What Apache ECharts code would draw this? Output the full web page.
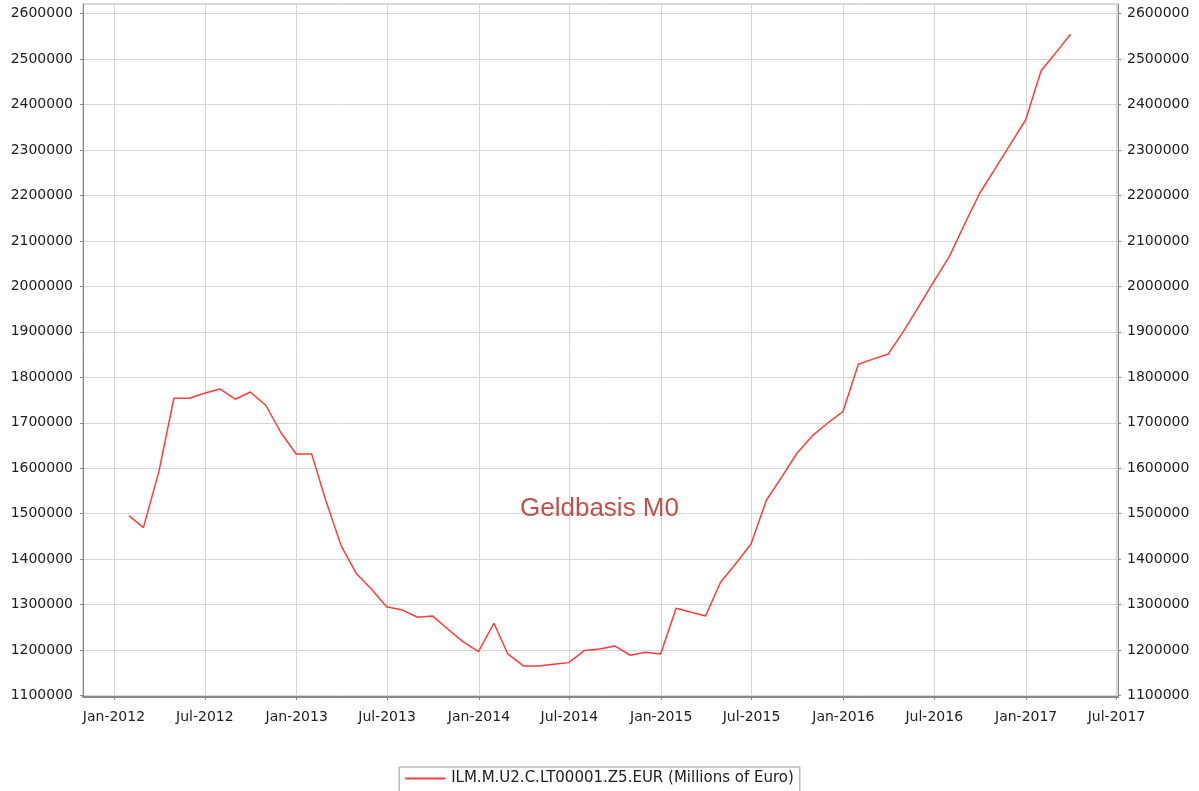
<!DOCTYPE html>
<html><head><meta charset="utf-8">
<script src="https://cdn.jsdelivr.net/npm/echarts@6/dist/echarts.min.js"></script>
<style>html,body{margin:0;padding:0;background:#fff}#c{width:1199px;height:791px}</style>
</head><body><div id="c"></div>
<script>
// Monthly observations (end of month)
const months = [
  '2012-01','2012-02','2012-03','2012-04','2012-05','2012-06','2012-07','2012-08','2012-09','2012-10','2012-11','2012-12',
  '2013-01','2013-02','2013-03','2013-04','2013-05','2013-06','2013-07','2013-08','2013-09','2013-10','2013-11','2013-12',
  '2014-01','2014-02','2014-03','2014-04','2014-05','2014-06','2014-07','2014-08','2014-09','2014-10','2014-11','2014-12',
  '2015-01','2015-02','2015-03','2015-04','2015-05','2015-06','2015-07','2015-08','2015-09','2015-10','2015-11','2015-12',
  '2016-01','2016-02','2016-03','2016-04','2016-05','2016-06','2016-07','2016-08','2016-09','2016-10','2016-11','2016-12',
  '2017-01','2017-02','2017-03'
];
const values = [
  1495800,1469400,1592600,1754000,1754000,1765000,1774400,1751800,1767800,1738600,1679200,1631500,
  1631500,1530300,1429900,1369200,1334000,1295700,1288500,1272400,1275300,1246000,1218700,1196800,
  1259200,1191700,1165300,1165300,1169000,1172600,1199000,1202700,1209300,1188800,1195400,1191700,
  1292200,1284000,1275300,1349400,1391100,1433600,1530300,1581600,1633000,1671700,1699000,1724500,
  1828700,1840000,1851400,1900400,1955900,2010400,2065400,2137300,2204800,2258900,2311700,2365900,
  2474400,2511800,2554400
];
const yTicks = [1100000,1200000,1300000,1400000,1500000,1600000,1700000,1800000,1900000,2000000,2100000,2200000,2300000,2400000,2500000,2600000];
const xTicks = ['2012-01','2012-07','2013-01','2013-07','2014-01','2014-07','2015-01','2015-07','2016-01','2016-07','2017-01','2017-07'];
const monthNames = ['Jan','Feb','Mar','Apr','May','Jun','Jul','Aug','Sep','Oct','Nov','Dec'];
const seriesName = 'ILM.M.U2.C.LT00001.Z5.EUR (Millions of Euro)';
const chartTitle = 'Geldbasis M0';

function endOfMonth(s){ const [y,m]=s.split('-').map(Number); return Date.UTC(y, m, 0); }
function startOfMonth(s){ const [y,m]=s.split('-').map(Number); return Date.UTC(y, m-1, 1); }
const xTickVals = xTicks.map(startOfMonth);
const data = months.map((m,i)=>[endOfMonth(m), values[i]]);
function fmtDate(v){ const d=new Date(v); return monthNames[d.getUTCMonth()]+'-'+d.getUTCFullYear(); }
function fmtNum(v){ return String(Math.round(v)); }

const axisFont = {fontFamily:'DejaVu Sans', fontSize:14, color:'#222'};
const chart = echarts.init(document.getElementById('c'), null, {renderer:'canvas'});
chart.setOption({
  animation:false,
  backgroundColor:'#fff',
  title:{text:chartTitle, left:'center', top:491,
    textStyle:{color:'#c0504d', fontSize:26, fontWeight:'normal', fontFamily:'Liberation Sans'}},
  grid:{left:83, right:81, top:4, bottom:94, show:true, borderColor:'#b4b4b4', borderWidth:1, containLabel:false},
  legend:{top:767, left:'center', data:[seriesName], icon:'rect', itemWidth:40, itemHeight:2, itemGap:6,
    borderColor:'#999', borderWidth:1, padding:[4,6,14,6], borderRadius:0,
    textStyle:{fontFamily:'DejaVu Sans', fontSize:15, color:'#222', padding:[0,0,0,1]}},
  xAxis:{type:'value', min:Date.UTC(2011,9,31), max:Date.UTC(2017,6,4), scale:true,
    axisLine:{show:true, onZero:false, lineStyle:{color:'#888', width:2}},
    axisTick:{show:true, customValues:xTickVals, length:3, lineStyle:{color:'#888'}},
    axisLabel:Object.assign({customValues:xTickVals, formatter:fmtDate, margin:13, hideOverlap:false}, axisFont),
    splitLine:{show:true, lineStyle:{color:'#d6d6d6', width:1}}},
  yAxis:[
    {type:'value', min:1097000, max:2621000, position:'left',
     axisLine:{show:true, lineStyle:{color:'#888', width:1}},
     axisTick:{show:true, customValues:yTicks, length:3, lineStyle:{color:'#888'}},
     axisLabel:Object.assign({customValues:yTicks, formatter:fmtNum, margin:10}, axisFont),
     splitLine:{show:true, lineStyle:{color:'#d6d6d6', width:1}}},
    {type:'value', min:1097000, max:2621000, position:'right',
     axisLine:{show:true, lineStyle:{color:'#888', width:1}},
     axisTick:{show:true, customValues:yTicks, length:3, lineStyle:{color:'#888'}},
     axisLabel:Object.assign({customValues:yTicks, formatter:fmtNum, margin:9}, axisFont),
     splitLine:{show:false}}
  ],
  series:[{name:seriesName, type:'line', data:data, yAxisIndex:0, showSymbol:false, symbol:'none',
    lineStyle:{color:'#ff3b3b', width:1.5}, itemStyle:{color:'#ff3b3b'}}]
});
</script></body></html>
